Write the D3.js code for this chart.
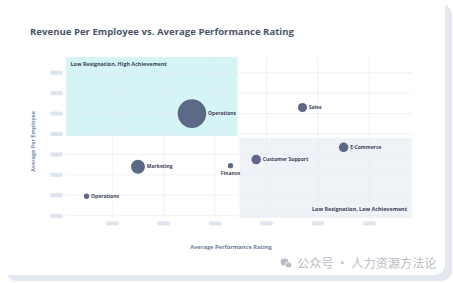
<!DOCTYPE html>
<html>
<head>
<meta charset="utf-8">
<script src="https://cdn.jsdelivr.net/npm/d3@7"></script>
<style>
  html, body { margin: 0; padding: 0; background: #fff; }
  svg { display: block; font-family: "Open Sans", sans-serif; }
</style>
</head>
<body>
<svg id="chart"></svg>
<script>
// data
const departments = ["Operations", "Sales", "E-Commerce", "Customer Support", "Finance", "Marketing", "Operations"];
const performance = [3.31, 3.74, 3.90, 3.56, 3.46, 3.10, 2.90];
const revenue = [120, 126, 87, 75, 69, 68, 39];
const headcount = [200, 20, 22, 22, 7, 48, 7];

const xTicks = [3.0, 3.2, 3.4, 3.6, 3.8, 4.0];
const yTicks = [20, 40, 60, 80, 100, 120, 140, 160];

const quadNames = ["Low Resignation, High Achievement", "Low Resignation, Low Achievement"];
const quadX = [[2.82, 3.487], [3.495, 4.166]];
const quadY = [[98, 175.4], [17.75, 96]];

const width = 453, height = 283;
const plot = { left: 66, right: 412, top: 57, bottom: 218 };

const svg = d3.select("#chart").attr("width", width).attr("height", height);

// card + shadow
svg.append("rect")
  .attr("x", 6).attr("y", 4)
  .attr("width", 446).attr("height", 277)
  .attr("rx", 11)
  .attr("fill", "#e3e8f0");
svg.append("rect")
  .attr("x", -12).attr("y", -12)
  .attr("width", 457).attr("height", 287)
  .attr("rx", 11)
  .attr("fill", "#fff");

const x = d3.scaleLinear().domain([2.82, 4.166]).range([plot.left, plot.right]);
const y = d3.scaleLinear().domain([17.75, 175.4]).range([plot.bottom, plot.top]);
const r = d3.scaleSqrt().domain([0, 200]).range([0, 14.3]);

svg.append("text")
  .attr("x", 30).attr("y", 32)
  .attr("dy", "0.35em")
  .attr("font-size", "9.6px")
  .attr("font-weight", 700)
  .attr("fill", "#4a5469")
  .text("Revenue Per Employee vs. Average Performance Rating");

// quadrants
const quadFill = ["#d4f4f6", "#eff2f7"];
quadNames.forEach((q, i) => {
  svg.append("rect")
    .attr("x", x(quadX[i][0]))
    .attr("y", y(quadY[i][1]))
    .attr("width", x(quadX[i][1]) - x(quadX[i][0]))
    .attr("height", y(quadY[i][0]) - y(quadY[i][1]))
    .attr("fill", quadFill[i]);
});

// grid
svg.append("g")
  .selectAll("line")
  .data(yTicks)
  .join("line")
  .attr("x1", plot.left).attr("x2", plot.right)
  .attr("y1", (d) => y(d)).attr("y2", (d) => y(d))
  .attr("stroke", "#e9edf3")
  .attr("stroke-width", 0.7);
svg.append("g")
  .selectAll("line")
  .data(xTicks)
  .join("line")
  .attr("x1", (d) => x(d)).attr("x2", (d) => x(d))
  .attr("y1", plot.top).attr("y2", plot.bottom)
  .attr("stroke", "#e9edf3")
  .attr("stroke-width", 0.7);

// tick placeholders (pills)
svg.append("g")
  .selectAll("rect")
  .data(yTicks)
  .join("rect")
  .attr("x", 50).attr("y", (d) => y(d) - 2.2)
  .attr("width", 13).attr("height", 4.4).attr("rx", 2.2)
  .attr("fill", "#dfe5ee");
svg.append("g")
  .selectAll("rect")
  .data(xTicks)
  .join("rect")
  .attr("x", (d) => x(d) - 6.5).attr("y", 221.2)
  .attr("width", 13).attr("height", 4.4).attr("rx", 2.2)
  .attr("fill", "#dfe5ee");

// quadrant labels
svg.append("text")
  .attr("x", x(quadX[0][0]) + 4.5).attr("y", y(quadY[0][1]) + 7.5)
  .attr("dy", "0.35em")
  .attr("font-size", "5.4px").attr("font-weight", 700)
  .attr("fill", "#3d4457")
  .text(quadNames[0]);
svg.append("text")
  .attr("x", x(quadX[1][1]) - 5).attr("y", y(quadY[1][0]) - 9)
  .attr("dy", "0.35em")
  .attr("text-anchor", "end")
  .attr("font-size", "5.4px").attr("font-weight", 700)
  .attr("fill", "#3d4457")
  .text(quadNames[1]);

// bubbles
const data = departments.map((name, i) => ({
  name, perf: performance[i], rev: revenue[i], size: headcount[i]
}));

const bubbles = svg.append("g")
  .selectAll("g")
  .data(data)
  .join("g")
  .attr("transform", (d) => `translate(${x(d.perf)},${y(d.rev)})`);

bubbles.append("circle")
  .attr("r", (d) => r(d.size))
  .attr("fill", "#5b6984");

bubbles.append("text")
  .attr("x", (d) => (d.name === "Finance" ? 0 : r(d.size) + 1.8))
  .attr("y", (d) => (d.name === "Finance" ? r(d.size) + 4.6 : 0))
  .attr("dy", "0.35em")
  .attr("text-anchor", (d) => (d.name === "Finance" ? "middle" : "start"))
  .attr("font-size", "5px").attr("font-weight", 700)
  .attr("fill", "#3d4457")
  .text((d) => d.name);

// axis titles
svg.append("text")
  .attr("x", (plot.left + plot.right) / 2 - 8).attr("y", 247)
  .attr("dy", "0.35em")
  .attr("text-anchor", "middle")
  .attr("font-size", "5.7px").attr("font-weight", 700)
  .attr("fill", "#6f7d99")
  .text("Average Performance Rating");
svg.append("text")
  .attr("transform", "translate(33,141.5) rotate(-90)")
  .attr("dy", "0.35em")
  .attr("text-anchor", "middle")
  .attr("font-size", "5.5px").attr("font-weight", 700)
  .attr("fill", "#7a88a8")
  .text("Average Per Employee");

// watermark
const wm = svg.append("g").attr("fill", "#b9bdc5");
wm.append("ellipse").attr("cx", 284.5).attr("cy", 262).attr("rx", 4).attr("ry", 3.4);
wm.append("ellipse").attr("cx", 288.5).attr("cy", 265).attr("rx", 3.4).attr("ry", 2.9)
  .attr("stroke", "#fff").attr("stroke-width", 0.8);
wm.append("text")
  .attr("x", 297).attr("y", 264)
  .attr("dy", "0.35em")
  .attr("font-family", "'Noto Sans CJK SC', sans-serif")
  .attr("font-size", "12.2px")
  .text("公众号 · 人力资源方法论");
</script>
</body>
</html>
